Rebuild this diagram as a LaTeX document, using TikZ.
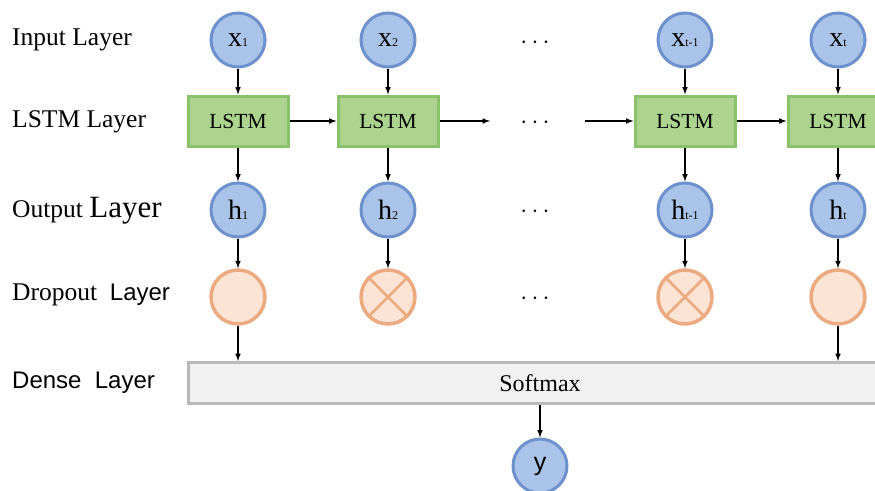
\documentclass[tikz,border=0pt]{standalone}
\usepackage{fontspec}
\setmainfont{Liberation Serif}
\setsansfont{Liberation Sans}
\usepackage{xcolor}
\usetikzlibrary{positioning}

\definecolor{unitfill}{RGB}{170,195,232}
\definecolor{unitline}{RGB}{108,145,205}
\definecolor{cellfill}{RGB}{172,212,142}
\definecolor{cellline}{RGB}{138,194,108}
\definecolor{dropfill}{RGB}{251,228,212}
\definecolor{dropline}{RGB}{236,170,128}
\definecolor{densefill}{RGB}{241,241,241}
\definecolor{denseline}{RGB}{185,185,185}

\newcommand{\lowidx}[1]{{\fontsize{12}{12}\selectfont #1}}

\begin{document}
\begin{tikzpicture}[x=1pt,y=-1pt,
  unit/.style={circle,draw=unitline,fill=unitfill,line width=3pt,minimum size=54pt,inner sep=0pt,font=\fontsize{28}{28}\selectfont},
  cell/.style={rectangle,draw=cellline,fill=cellfill,line width=3pt,minimum width=100pt,minimum height=50pt,font=\fontsize{21.5}{21.5}\selectfont},
  drop/.style={circle,draw=dropline,fill=dropfill,line width=3.5pt,minimum size=54pt,inner sep=0pt},
  lbl/.style={anchor=west,inner sep=0pt,font=\fontsize{25.5}{25.5}\selectfont},
  conn/.style={-latex,line width=1.5pt}]

\path[use as bounding box,clip] (0,0) rectangle (875,490);

% layer names
\node[lbl] (lin) at (12,40) {Input Layer};
\node[lbl] (llstm) at (12,122) {LSTM Layer};
\node[lbl] (lout) at (12,211) {Output {\fontsize{31}{31}\selectfont Layer}};
\node[lbl] (ldrop) at (12,295) {Dropout\ \ {\sffamily\fontsize{24}{24}\selectfont Layer}};
\node[lbl,font=\sffamily\fontsize{24}{24}\selectfont] (ldense) at (12,383) {Dense\ \ Layer};

% inputs
\node[unit] (x1) at (238,40) {x\lowidx{1}};
\node[unit] (x2) at (388,40) {x\lowidx{2}};
\node[unit] (x3) at (685,40) {x\lowidx{t-1}};
\node[unit] (x4) at (838,40) {x\lowidx{t}};

% lstm cells
\node[cell] (c1) at (238,121) {LSTM};
\node[cell] (c2) at (388,121) {LSTM};
\node[cell] (c3) at (685,121) {LSTM};
\node[cell] (c4) at (838,121) {LSTM};

% outputs
\node[unit] (h1) at (238,210) {h\lowidx{1}};
\node[unit] (h2) at (388,210) {h\lowidx{2}};
\node[unit] (h3) at (685,210) {h\lowidx{t-1}};
\node[unit] (h4) at (838,210) {h\lowidx{t}};

% dropout
\node[drop] (d1) at (238,297) {};
\node[drop] (d2) at (388,297) {};
\node[drop] (d3) at (685,297) {};
\node[drop] (d4) at (838,297) {};
\draw[dropline,line width=2.5pt] (d2.north west) -- (d2.south east) (d2.north east) -- (d2.south west);
\draw[dropline,line width=2.5pt] (d3.north west) -- (d3.south east) (d3.north east) -- (d3.south west);

% dots
\foreach \r/\yy in {a/43,b/123,c/212,d/299}
  \node[font=\fontsize{32}{32}\selectfont] (dots\r) at (535,\yy) {$\cdots$};

% dense + output
\node[rectangle,draw=denseline,fill=densefill,line width=3pt,minimum width=703pt,minimum height=41pt,font=\fontsize{24}{24}\selectfont] (dense) at (540,383) {Softmax};
\node[unit,font=\sffamily\fontsize{25}{25}\selectfont] (y) at (540,466) {y};

\coordinate (gapa) at (490,121);
\coordinate (gapb) at (585,121);

% connectors
\foreach \i in {1,...,4} {
  \draw[conn] (x\i) -- (c\i);
  \draw[conn] (c\i) -- (h\i);
  \draw[conn] (h\i) -- (d\i);
}
\draw[conn] (c1) -- (c2);
\draw[conn] (c2) -- (gapa);
\draw[conn] (gapb) -- (c3);
\draw[conn] (c3) -- (c4);
\draw[conn] (d1) -- (d1 |- dense.north);
\draw[conn] (d4) -- (d4 |- dense.north);
\draw[conn] (dense) -- (y);

\end{tikzpicture}
\end{document}
